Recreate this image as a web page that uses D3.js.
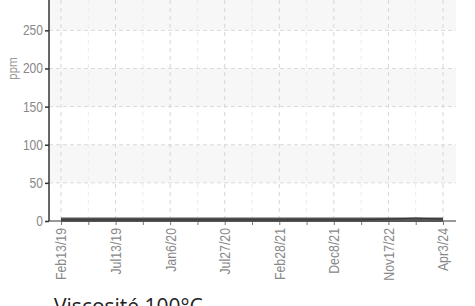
<!DOCTYPE html>
<html>
<head>
<meta charset="utf-8">
<script src="https://cdn.jsdelivr.net/npm/d3@7"></script>
<style>
  html, body { margin: 0; padding: 0; background: #fff; overflow: hidden; }
  svg { display: block; font-family: Roboto, "Liberation Sans", sans-serif; }
</style>
</head>
<body>
<svg id="chart" width="475" height="306"></svg>
<script>
(() => {
  const dates = ["Feb13/19", "Apr20/19", "Jul13/19", "Oct2/19", "Jan6/20", "Apr14/20", "Jul27/20", "Nov3/20",
                 "Feb28/21", "Jul12/21", "Dec8/21", "May19/22", "Nov17/22", "Aug9/23", "Apr3/24"];
  const mainValues = [1.5, 1.5, 1.5, 1.5, 1.5, 1.5, 1.5, 1.5, 1.5, 1.5, 1.5, 1.5, 1.5, 1.5, 1.5];
  const thinValues = [1.5, 1.5, 1.5, 1.5, 1.5, 1.5, 1.5, 1.5, 1.5, 1.5, 1.5, 1.5, 2.5, 3.8, 2.5];
  const yTicks = [0, 50, 100, 150, 200, 250];
  const yMax = 300;
  const title = "Viscosité 100°C";
  const yLabel = "ppm";

  const left = 49, right = 456, zeroY = 221, topY = -7.8;
  const squeeze = 0.86; // condensed look for the axis font

  const svg = d3.select("#chart");

  const x = d3.scalePoint().domain(dates).range([61, 443]);
  const y = d3.scaleLinear().domain([0, yMax]).range([zeroY, topY]);

  // alternating bands
  const bands = d3.range(0, yMax, 50).filter((d, i) => i % 2 === 1);
  svg.append("g")
    .selectAll("rect")
    .data(bands)
    .join("rect")
    .attr("x", left)
    .attr("width", right - left)
    .attr("y", d => y(d + 50))
    .attr("height", d => y(d) - y(d + 50))
    .attr("fill", "#f7f7f7");

  // vertical grid
  svg.append("g")
    .selectAll("line")
    .data(dates)
    .join("line")
    .attr("x1", d => x(d)).attr("x2", d => x(d))
    .attr("y1", 0).attr("y2", zeroY)
    .attr("stroke", (d, i) => i % 2 === 0 ? "#d6d6d6" : "#ebebeb")
    .attr("stroke-dasharray", "4,4");

  // horizontal grid
  svg.append("g")
    .selectAll("line")
    .data(yTicks.filter(d => d > 0))
    .join("line")
    .attr("x1", left).attr("x2", right)
    .attr("y1", d => y(d)).attr("y2", d => y(d))
    .attr("stroke", "#dadada")
    .attr("stroke-dasharray", "4,3");

  // y axis
  const yAxis = svg.append("g")
    .attr("transform", `translate(${left},0)`)
    .call(d3.axisLeft(y).tickValues(yTicks).tickSize(4));
  yAxis.select(".domain").attr("stroke", "#333").attr("stroke-width", 1.5).attr("d", `M0,${zeroY}V-10`);
  yAxis.selectAll(".tick line").attr("stroke", "#333").attr("stroke-width", 1.5);
  yAxis.selectAll(".tick text")
    .attr("fill", "#888")
    .style("font-size", "14px")
    .attr("x", 0)
    .attr("transform", `translate(-6,0) scale(${squeeze},1)`);

  // x axis
  const xAxis = svg.append("g")
    .attr("transform", `translate(0,${zeroY})`)
    .call(d3.axisBottom(x).tickSize(4).tickFormat((d, i) => i % 2 === 0 ? d : ""));
  xAxis.select(".domain").attr("stroke", "#333").attr("stroke-width", 1.2).attr("d", `M${left},0H${right}`);
  xAxis.selectAll(".tick line").attr("stroke", "#777");
  xAxis.selectAll(".tick text")
    .attr("fill", "#888")
    .style("font-size", "14px")
    .attr("text-anchor", "end")
    .attr("transform", `rotate(-90) translate(-7,0) scale(0.88,1)`)
    .attr("x", 0)
    .attr("y", 0)
    .attr("dy", "0.35em");

  // y label
  svg.append("text")
    .attr("transform", `translate(17,${y(200)}) rotate(-90) scale(${squeeze},1)`)
    .attr("text-anchor", "middle")
    .attr("fill", "#999")
    .style("font-size", "13px")
    .text(yLabel);

  const line = d3.line()
    .x((d, i) => x(dates[i]))
    .y(d => y(d));

  svg.append("path")
    .datum(mainValues)
    .attr("fill", "none")
    .attr("stroke", "#555")
    .attr("stroke-width", 4.5)
    .attr("d", line);

  svg.append("path")
    .datum(thinValues)
    .attr("fill", "none")
    .attr("stroke", "#333")
    .attr("stroke-width", 1)
    .attr("d", line);

  svg.append("text")
    .attr("x", 54)
    .attr("y", 314)
    .attr("fill", "#222")
    .style("font-family", "'Open Sans', sans-serif")
    .style("font-size", "21px")
    .text(title);
})();
</script>
</body>
</html>
